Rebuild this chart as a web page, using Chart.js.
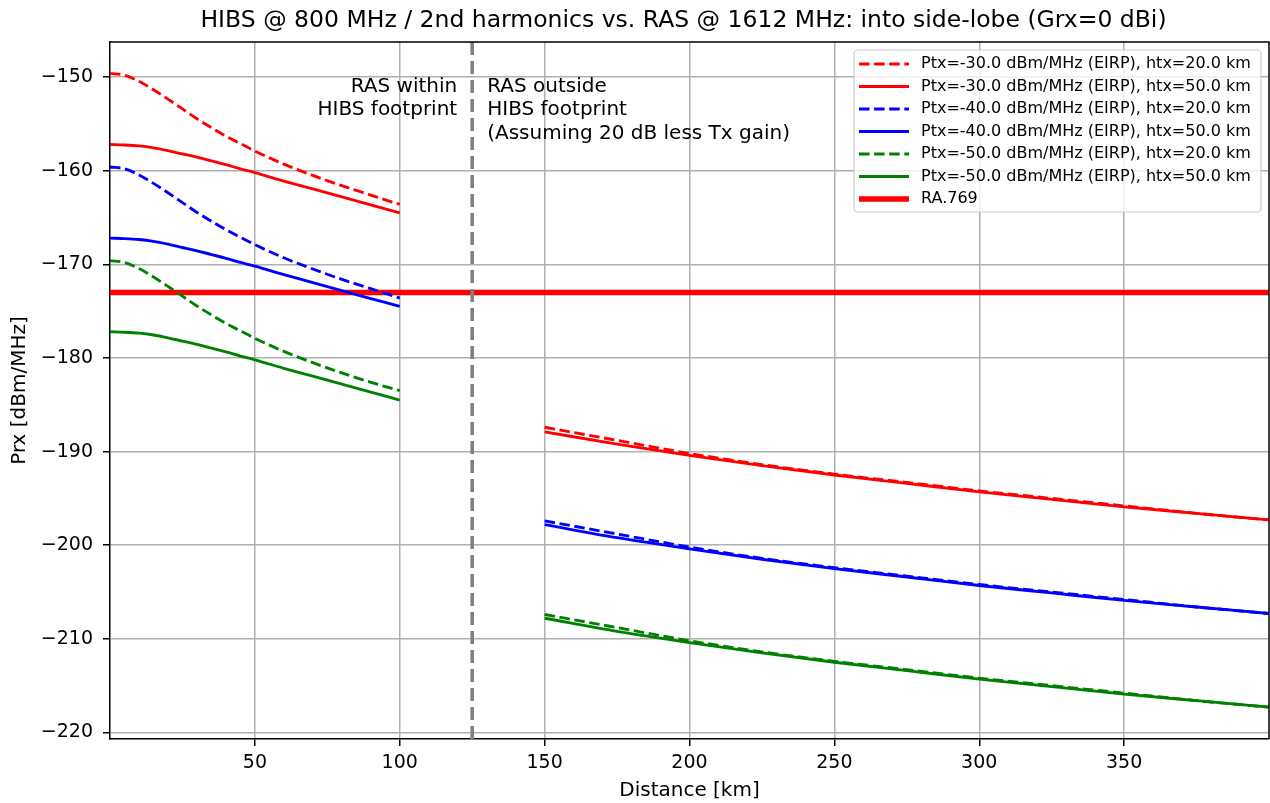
<!DOCTYPE html>
<html>
<head>
<meta charset="utf-8">
<script src="https://cdn.jsdelivr.net/npm/chart.js@4.4.1/dist/chart.umd.min.js"></script>
<style>
  html, body { margin: 0; padding: 0; background: #fff; }
  #wrap { width: 1270px; height: 803px; position: relative; }
</style>
</head>
<body>
<div id="wrap"><canvas id="chart"></canvas></div>
<script>
// distances [km]: inside and outside the HIBS footprint
const distNear = [0, 5, 10, 15, 20, 25, 30, 35, 40, 45, 50, 60, 70, 80, 90, 100];
const distFar = [150, 175, 200, 225, 250, 275, 300, 325, 350, 375, 400];

// Prx [dBm/MHz]
const red20Near = [-149.6, -149.8, -150.45, -151.35, -152.35, -153.4, -154.45, -155.4, -156.3, -157.1, -157.9, -159.3, -160.5, -161.6, -162.6, -163.6];
const red20Far = [-187.4, -188.8, -190.2, -191.4, -192.4, -193.3, -194.2, -195.0, -195.8, -196.6, -197.3];
const red50Near = [-157.2, -157.25, -157.35, -157.55, -157.85, -158.2, -158.55, -158.95, -159.35, -159.8, -160.2, -161.1, -161.95, -162.8, -163.65, -164.5];
const red50Far = [-187.9, -189.2, -190.4, -191.5, -192.5, -193.4, -194.3, -195.1, -195.9, -196.6, -197.3];

const blue20Near = [-159.6, -159.8, -160.45, -161.35, -162.35, -163.4, -164.45, -165.4, -166.3, -167.1, -167.9, -169.3, -170.5, -171.6, -172.6, -173.6];
const blue20Far = [-197.4, -198.8, -200.2, -201.4, -202.4, -203.3, -204.2, -205.0, -205.8, -206.6, -207.3];
const blue50Near = [-167.2, -167.25, -167.35, -167.55, -167.85, -168.2, -168.55, -168.95, -169.35, -169.8, -170.2, -171.1, -171.95, -172.8, -173.65, -174.5];
const blue50Far = [-197.8, -199.2, -200.4, -201.5, -202.5, -203.4, -204.3, -205.1, -205.9, -206.6, -207.3];

const green20Near = [-169.6, -169.8, -170.45, -171.35, -172.35, -173.4, -174.45, -175.4, -176.3, -177.1, -177.9, -179.3, -180.5, -181.6, -182.6, -183.5];
const green20Far = [-207.4, -208.8, -210.2, -211.4, -212.4, -213.3, -214.2, -215.0, -215.8, -216.6, -217.3];
const green50Near = [-177.2, -177.25, -177.35, -177.55, -177.85, -178.2, -178.55, -178.95, -179.35, -179.8, -180.2, -181.1, -181.95, -182.8, -183.65, -184.5];
const green50Far = [-207.8, -209.2, -210.4, -211.5, -212.5, -213.4, -214.3, -215.1, -215.9, -216.6, -217.3];

const raDist = [0, 400];
const raLevel = [-173.0, -173.0];
const footprintEdge = 125;

const xTicks = [50, 100, 150, 200, 250, 300, 350];
const yTicks = [-220, -210, -200, -190, -180, -170, -160, -150];

const FONT = 'DejaVu Sans';
const LW = 2.85;
const DASH = [10.5, 4.6];

function joinSegments(near, far) {
  const pts = distNear.map((d, i) => ({x: d, y: near[i]}));
  pts.push({x: footprintEdge, y: null});
  distFar.forEach((d, i) => pts.push({x: d, y: far[i]}));
  return pts;
}

function series(label, color, dashed, near, far) {
  return {
    label: label,
    data: joinSegments(near, far),
    borderColor: color,
    backgroundColor: color,
    borderWidth: LW,
    borderDash: dashed ? DASH : [],
    pointRadius: 0,
    cubicInterpolationMode: 'monotone',
    spanGaps: false,
    fill: false,
  };
}

const datasets = [
  series('Ptx=-30.0 dBm/MHz (EIRP), htx=20.0 km', '#ff0000', true, red20Near, red20Far),
  series('Ptx=-30.0 dBm/MHz (EIRP), htx=50.0 km', '#ff0000', false, red50Near, red50Far),
  series('Ptx=-40.0 dBm/MHz (EIRP), htx=20.0 km', '#0000ff', true, blue20Near, blue20Far),
  series('Ptx=-40.0 dBm/MHz (EIRP), htx=50.0 km', '#0000ff', false, blue50Near, blue50Far),
  series('Ptx=-50.0 dBm/MHz (EIRP), htx=20.0 km', '#008000', true, green20Near, green20Far),
  series('Ptx=-50.0 dBm/MHz (EIRP), htx=50.0 km', '#008000', false, green50Near, green50Far),
  {
    label: 'RA.769',
    data: raDist.map((d, i) => ({x: d, y: raLevel[i]})),
    borderColor: '#ff0000',
    backgroundColor: '#ff0000',
    borderWidth: 5.5,
    borderDash: [],
    pointRadius: 0,
    fill: false,
  },
];

// vertical boundary, frame, annotations, title and legend
const decorations = {
  id: 'decorations',
  afterDatasetsDraw(chart) {
    const {ctx, chartArea: a, scales} = chart;
    const xb = scales.x.getPixelForValue(footprintEdge);
    ctx.save();
    ctx.strokeStyle = '#808080';
    ctx.lineWidth = 3.6;
    ctx.setLineDash([13, 6]);
    ctx.beginPath();
    ctx.moveTo(xb, a.top);
    ctx.lineTo(xb, a.bottom);
    ctx.stroke();
    ctx.restore();
  },
  afterDraw(chart) {
    const {ctx, chartArea: a, scales} = chart;
    const xb = scales.x.getPixelForValue(footprintEdge);
    ctx.save();

    // annotations
    ctx.fillStyle = '#000';
    ctx.font = '20px "' + FONT + '"';
    ctx.textBaseline = 'middle';
    ctx.textAlign = 'right';
    ['RAS within', 'HIBS footprint'].forEach((t, i) => ctx.fillText(t, xb - 15, a.top + 44.5 + i * 23.5));
    ctx.textAlign = 'left';
    ['RAS outside', 'HIBS footprint', '(Assuming 20 dB less Tx gain)'].forEach((t, i) =>
      ctx.fillText(t, xb + 15, a.top + 44.5 + i * 23.5));

    // title
    ctx.font = '23.5px "' + FONT + '"';
    ctx.textAlign = 'center';
    ctx.fillText('HIBS @ 800 MHz / 2nd harmonics vs. RAS @ 1612 MHz: into side-lobe (Grx=0 dBi)',
      (a.left + a.right) / 2 - 6, 21);

    // top and right spines
    ctx.strokeStyle = '#000';
    ctx.lineWidth = 1.5;
    ctx.beginPath();
    ctx.moveTo(a.left, a.top);
    ctx.lineTo(a.right, a.top);
    ctx.lineTo(a.right, a.bottom);
    ctx.stroke();

    // legend box
    const bx = a.right - 415, by = a.top + 8, bw = 407, bh = 162;
    ctx.fillStyle = 'rgba(255,255,255,0.8)';
    ctx.strokeStyle = '#cccccc';
    ctx.lineWidth = 1.2;
    ctx.beginPath();
    ctx.roundRect(bx, by, bw, bh, 4);
    ctx.fill();
    ctx.stroke();

    ctx.font = '16px "' + FONT + '"';
    ctx.textAlign = 'left';
    ctx.textBaseline = 'middle';
    chart.data.datasets.forEach((ds, i) => {
      const yy = by + 14 + i * 22.5;
      ctx.strokeStyle = ds.borderColor;
      ctx.lineWidth = ds.borderWidth;
      ctx.setLineDash(ds.borderDash);
      ctx.beginPath();
      ctx.moveTo(bx + 5, yy);
      ctx.lineTo(bx + 55, yy);
      ctx.stroke();
      ctx.setLineDash([]);
      ctx.fillStyle = '#000';
      ctx.fillText(ds.label, bx + 67, yy);
    });
    ctx.restore();
  },
};

const tickFont = {family: FONT, size: 19};
const labelFont = {family: FONT, size: 20};
const minus = v => String(v).replace('-', '\u2212');

new Chart(document.getElementById('chart'), {
  type: 'line',
  data: {datasets: datasets},
  options: {
    responsive: true,
    maintainAspectRatio: false,
    animation: false,
    layout: {padding: {top: 42, right: 1, left: 0, bottom: 0}},
    plugins: {
      legend: {display: false},
      tooltip: {enabled: false},
      title: {display: false},
    },
    scales: {
      x: {
        type: 'linear',
        min: 0,
        max: 400,
        afterBuildTicks: s => { s.ticks = xTicks.map(v => ({value: v})); },
        afterFit: s => { s.height = 64; },
        grid: {color: '#b0b0b0', lineWidth: 1.5, tickColor: '#000', tickWidth: 1.5, tickLength: 7},
        border: {color: '#000', width: 1.5},
        ticks: {font: tickFont, color: '#000', padding: 6, maxRotation: 0, callback: minus},
        title: {display: true, text: 'Distance [km]', font: labelFont, color: '#000', padding: {top: 0, bottom: 0}},
      },
      y: {
        type: 'linear',
        min: -220.7,
        max: -146.25,
        afterBuildTicks: s => { s.ticks = yTicks.map(v => ({value: v})); },
        afterFit: s => { s.width = 110; },
        grid: {color: '#b0b0b0', lineWidth: 1.5, tickColor: '#000', tickWidth: 1.5, tickLength: 7},
        border: {color: '#000', width: 1.5},
        ticks: {font: tickFont, color: '#000', padding: 10, callback: minus},
        title: {display: true, text: 'Prx [dBm/MHz]', font: labelFont, color: '#000', padding: {top: 8, bottom: 0}},
      },
    },
  },
  plugins: [decorations],
});
</script>
</body>
</html>
